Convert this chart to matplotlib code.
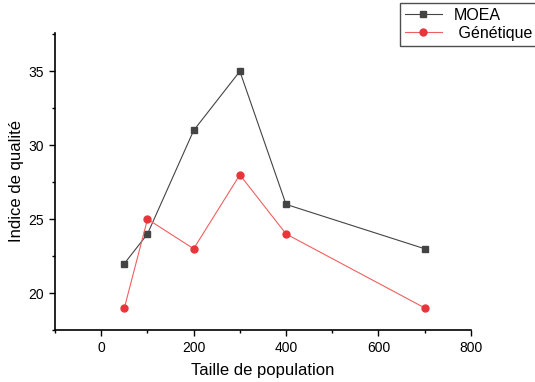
import matplotlib
matplotlib.use("Agg")
import matplotlib.pyplot as plt

plt.rcParams['font.family'] = ['Liberation Sans', 'DejaVu Sans']

# data
taille = [50, 100, 200, 300, 400, 700]
moea = [22, 24, 31, 35, 26, 23]
genetique = [19, 25, 23, 28, 24, 19]

fig = plt.figure(figsize=(5.35, 3.82), dpi=100)
ax = fig.add_axes([0.103, 0.136, 0.777, 0.778])

l1, = ax.plot(taille, moea, color='#444444', lw=0.8, marker='s', ms=5,
              mfc='#444444', mec='#444444', label='MOEA')
l2, = ax.plot(taille, genetique, color='#f06060', lw=0.8, marker='o', ms=5,
              mfc='#e8353b', mec='#e8353b', label=' Génétique')

ax.set_xlim(-100, 800)
ax.set_ylim(17.5, 37.6)
ax.set_xticks([0, 200, 400, 600, 800])
ax.set_xticks([-100, 100, 300, 500, 700], minor=True)
ax.set_yticks([20, 25, 30, 35])
ax.set_yticks([17.5, 22.5, 27.5, 32.5, 37.5], minor=True)
ax.tick_params(which='major', direction='out', length=4, width=1, labelsize=10, pad=4)
ax.tick_params(which='minor', direction='out', length=2.5, width=1)
for s in ['top', 'right']:
    ax.spines[s].set_visible(False)
for s in ['left', 'bottom']:
    ax.spines[s].set_linewidth(1.2)

ax.set_xlabel('Taille de population', fontsize=12, labelpad=6)
ax.set_ylabel('Indice de qualité', fontsize=12, labelpad=3)

fig.legend(handles=[l1, l2], loc='upper left', bbox_to_anchor=(0.745, 0.997),
           frameon=True, fancybox=False, edgecolor='#222222', fontsize=11.5,
           handlelength=2.3, borderpad=0.3, labelspacing=0.2, handletextpad=0.75,
           borderaxespad=0.1)

fig.savefig('out.png', dpi=100)
